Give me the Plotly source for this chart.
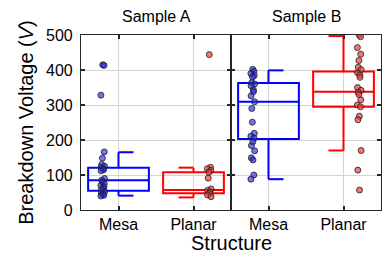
import numpy as np
import plotly.graph_objects as go
from plotly.subplots import make_subplots

samples = ["Sample A", "Sample B"]
structures = ["Mesa", "Planar"]

# raw measured points (V)
mesa_a = [415, 413, 328, 166, 148, 130, 125, 122, 118, 115, 112, 90, 85, 80, 75, 70, 66, 62, 58, 52, 48, 45, 42, 40]
planar_a = [444, 122, 118, 113, 108, 91, 60, 56, 52, 47, 43, 38]
mesa_b = [402, 396, 390, 384, 380, 364, 360, 355, 343, 338, 326, 309, 290, 251, 219, 211, 205, 195, 184, 169, 149, 143, 100, 88]
planar_b = [500, 495, 464, 445, 427, 408, 401, 392, 386, 379, 350, 342, 336, 330, 315, 300, 295, 268, 258, 170, 114, 57]

# box statistics: [lowerfence, q1, median, q3, upperfence]
stats_mesa_a = [41, 55, 85, 121, 165]
stats_planar_a = [36, 48, 57, 108, 121]
stats_mesa_b = [88, 203, 309, 363, 399]
stats_planar_b = [170, 295, 338, 396, 497]

groups = [
    (1, 1, mesa_a, stats_mesa_a, "Mesa"),
    (1, 2, planar_a, stats_planar_a, "Planar"),
    (2, 1, mesa_b, stats_mesa_b, "Mesa"),
    (2, 2, planar_b, stats_planar_b, "Planar"),
]

colors = {"Mesa": "#0000ff", "Planar": "#ff0000"}
fills = {"Mesa": "rgba(40,40,230,0.65)", "Planar": "rgba(240,60,60,0.7)"}
side = {"Mesa": -1, "Planar": 1}

fig = make_subplots(rows=1, cols=2, shared_yaxes=True, horizontal_spacing=0,
                    subplot_titles=samples)

for col, pos, pts, st, name in groups:
    c = colors[name]
    fig.add_trace(go.Box(
        x=[pos], q1=[st[1]], median=[st[2]], q3=[st[3]],
        lowerfence=[st[0]], upperfence=[st[4]],
        width=0.81, whiskerwidth=0, boxpoints=False,
        line=dict(color=c, width=2), fillcolor="rgba(0,0,0,0)",
        showlegend=False, hoverinfo="skip"), row=1, col=col)
    # half-width whisker caps pointing away from the points
    s = -side[name]
    for yv in (st[0], st[4]):
        fig.add_trace(go.Scatter(
            x=[pos, pos + s * 0.2], y=[yv, yv], mode="lines",
            line=dict(color=c, width=2), showlegend=False, hoverinfo="skip"),
            row=1, col=col)
    n = len(pts)
    jit = 0.025 * np.sin(np.arange(n) * 2.4)
    xs = pos + side[name] * 0.21 + jit
    fig.add_trace(go.Scatter(
        x=xs, y=pts, mode="markers",
        marker=dict(size=6, color=fills[name], line=dict(color="rgba(30,30,30,0.8)", width=1)),
        showlegend=False, hoverinfo="skip"), row=1, col=col)

axis_common = dict(
    showline=True, linecolor="#262626", linewidth=1.2, mirror="ticks",
    ticks="inside", ticklen=4, tickcolor="#262626", tickwidth=1.5,
    showgrid=True, gridcolor="#d4d4d4", gridwidth=1, zeroline=False,
    automargin=False,
    tickfont=dict(family="Liberation Sans, Arial", size=16, color="black"),
)

for i in (1, 2):
    fig.update_xaxes(range=[0.5, 2.5], tickvals=[1, 2], ticktext=structures,
                     row=1, col=i, **axis_common)
    fig.update_yaxes(range=[0, 500], tickvals=[0, 100, 200, 300, 400, 500],
                     row=1, col=i, **axis_common)

fig.update_yaxes(title=dict(text="Breakdown Voltage (<i>V</i>)",
                            font=dict(family="Liberation Sans, Arial", size=20, color="black"),
                            standoff=6),
                 ticklabelstandoff=4, row=1, col=1)

for ann in fig.layout.annotations:
    ann.font = dict(family="Liberation Sans, Arial", size=16, color="black")
    ann.yshift = 8

fig.add_annotation(text="Structure", xref="paper", yref="paper", x=0.5, y=0,
                   xanchor="center", yanchor="top", yshift=-20, showarrow=False,
                   font=dict(family="Liberation Sans, Arial", size=20, color="black"))

fig.update_layout(
    width=388, height=257,
    margin=dict(l=81, r=7, t=35, b=47, autoexpand=False),
    paper_bgcolor="white", plot_bgcolor="white",
)

fig.write_html("out.html", config={"displayModeBar": False},
               post_script="document.body.style.margin='0px';")
